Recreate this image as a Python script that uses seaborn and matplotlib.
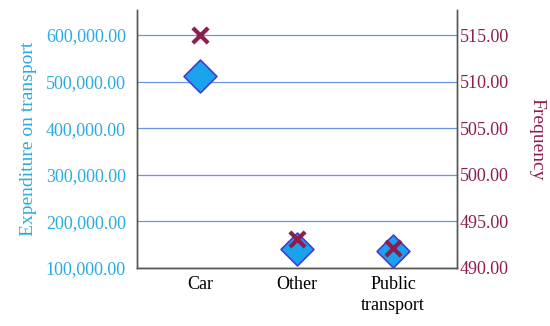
import matplotlib
matplotlib.use('Agg')
import matplotlib.pyplot as plt
import seaborn as sns
import pandas as pd
from matplotlib.ticker import FuncFormatter

# Data
categories = ['Car', 'Other', 'Public\ntransport']
expenditure = [512000, 141000, 136500]
frequency = [515.0, 493.1, 492.1]

df = pd.DataFrame({'category': categories,
                   'expenditure': expenditure,
                   'frequency': frequency})

sns.set_style('white')
plt.rcParams['font.family'] = ['Liberation Serif', 'DejaVu Serif']

blue_txt = '#29abe2'
maroon = '#8c1d4e'

fig, ax = plt.subplots(figsize=(5.5, 3.26), dpi=100)
fig.subplots_adjust(left=0.249, right=0.831, top=0.969, bottom=0.178)

ax.grid(axis='y', color='#6a95e2', linewidth=0.9)
ax.set_axisbelow(True)

sns.scatterplot(data=df, x='category', y='expenditure', ax=ax, marker='D',
                s=280, color='#19a3ec', edgecolor='#3d3fd8', linewidth=1.2,
                zorder=3, legend=False)

ax2 = ax.twinx()
sns.scatterplot(data=df, x='category', y='frequency', ax=ax2, marker='x',
                s=120, color=maroon, linewidth=3, zorder=4, legend=False)

ax.set_xlim(-0.65, 2.66)
ax.set_ylim(100000, 653600)
ax.set_yticks([100000, 200000, 300000, 400000, 500000, 600000])
ax.yaxis.set_major_formatter(FuncFormatter(lambda v, p: f'{v:,.2f}'))
ax2.set_ylim(490, 517.7)
ax2.set_yticks([490, 495, 500, 505, 510, 515])
ax2.yaxis.set_major_formatter(FuncFormatter(lambda v, p: f'{v:.2f}'))

ax.set_xlabel('')
ax.set_ylabel('Expenditure on transport', color=blue_txt, fontsize=14, labelpad=6)
ax2.set_ylabel('Frequency', color=maroon, fontsize=14, rotation=270, labelpad=26)

ax.tick_params(axis='y', colors=blue_txt, labelsize=13, length=0, pad=8)
ax.tick_params(axis='x', colors='black', labelsize=13, length=0, pad=6)
ax2.tick_params(axis='y', colors=maroon, labelsize=13, length=0, pad=2)
for lbl in ax.get_xticklabels():
    lbl.set_linespacing(1.3)

for a in (ax, ax2):
    a.spines['top'].set_visible(False)
    for s in ('left', 'right', 'bottom'):
        a.spines[s].set_color('#555555')
        a.spines[s].set_linewidth(1.0)

plt.savefig('out.png', dpi=100)
